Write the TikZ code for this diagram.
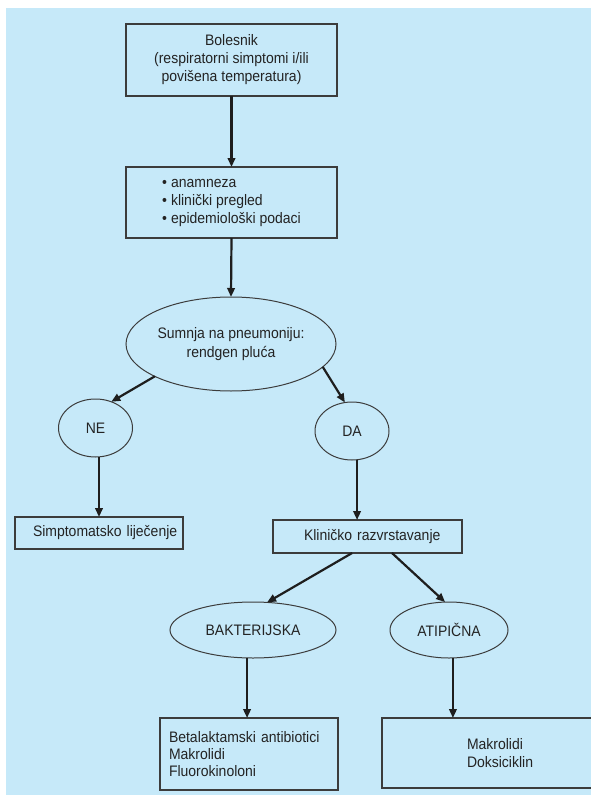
\documentclass[tikz,border=0pt]{standalone}
\usepackage{fontspec}
\setmainfont{Liberation Sans}[FakeStretch=0.92]
\usetikzlibrary{arrows.meta,shapes.geometric}
\definecolor{bg}{RGB}{198,233,249}
\definecolor{ln}{RGB}{60,60,60}
\definecolor{tx}{RGB}{35,35,35}
\definecolor{ar}{RGB}{30,30,30}
\begin{document}
\begin{tikzpicture}[x=1pt,y=-1pt,
  box/.style={draw=ln, line width=1.1pt, rectangle, inner sep=0pt, outer sep=0pt, text=tx, font=\fontsize{15.2}{18}\selectfont},
  oval/.style={draw=ln, line width=1pt, ellipse, inner sep=0pt, outer sep=0pt, text=tx, font=\fontsize{15.2}{18}\selectfont, align=center},
  arr/.style={draw=ar, line width=2.2pt, -{Triangle[length=9pt,width=7.5pt]}}]
\useasboundingbox (0,0) rectangle (591,795);
\clip (0,0) rectangle (591,795);
\fill[bg] (6,8) rectangle (591,795);
% nodes
\node[box, minimum width=211pt, minimum height=72pt, align=center] (b1) at (231.5,60)
  {Bolesnik\\(respiratorni simptomi i/ili\\povišena temperatura)};
\node[box, minimum width=211pt, minimum height=71pt, align=left] (b2) at (231.5,202.5)
  {\textbullet\hspace{4pt}anamneza\\\textbullet\hspace{4pt}klinički pregled\\\textbullet\hspace{4pt}epidemiološki podaci};
\node[oval, minimum width=210pt, minimum height=94pt] (e1) at (231,344)
  {\raisebox{-3pt}{\shortstack{Sumnja na pneumoniju:\\[1pt]rendgen pluća}}};
\node[oval, minimum width=74pt, minimum height=58pt] (ne) at (95.5,428) {NE};
\node[oval, minimum width=74pt, minimum height=58pt] (da) at (352,431) {DA};
\node[box, text width=168pt, minimum height=32pt, align=left] (s1) at (99,533)
  {\hspace*{18pt}Simptomatsko liječenje};
\node[box, text width=189pt, minimum height=33pt, align=left] (k1) at (367.5,536.5)
  {\hspace*{31pt}Kliničko razvrstavanje};
\node[oval, minimum width=166pt, minimum height=56pt] (bak) at (253,630) {BAKTERIJSKA};
\node[oval, minimum width=118pt, minimum height=56pt] (atp) at (449,630) {ATIPIČNA};
\node[box, text width=178pt, minimum height=72pt, align=left, font=\fontsize{15.2}{17.2}\selectfont] (t1) at (249,754)
  {\hspace*{9pt}Betalaktamski antibiotici\\\hspace*{9pt}Makrolidi\\\hspace*{9pt}Fluorokinoloni};
\node[box, text width=240pt, minimum height=70pt, align=left, font=\fontsize{15.2}{17.2}\selectfont] (t2) at (502,753)
  {\hspace*{85pt}Makrolidi\\\hspace*{85pt}Doksiciklin};
% connectors
\draw[arr] (b1.south) -- (b2.north);
\draw[arr] (b2.south) -- (e1.north);
\draw[arr] (e1.203) -- (ne.59);
\draw[arr] (e1.-14) -- (da.104);
\draw[arr] (ne.south -| s1.north) -- (s1.north);
\draw[arr] (da.-80) -- (da.-80 |- k1.north);
\draw[arr] (k1.227) -- (bak.63);
\draw[arr] (k1.-34) -- (atp.98);
\draw[arr] (bak.-102) -- (bak.-102 |- t1.north);
\draw[arr] (atp.-82) -- (atp.-82 |- t2.north);
\end{tikzpicture}
\end{document}
